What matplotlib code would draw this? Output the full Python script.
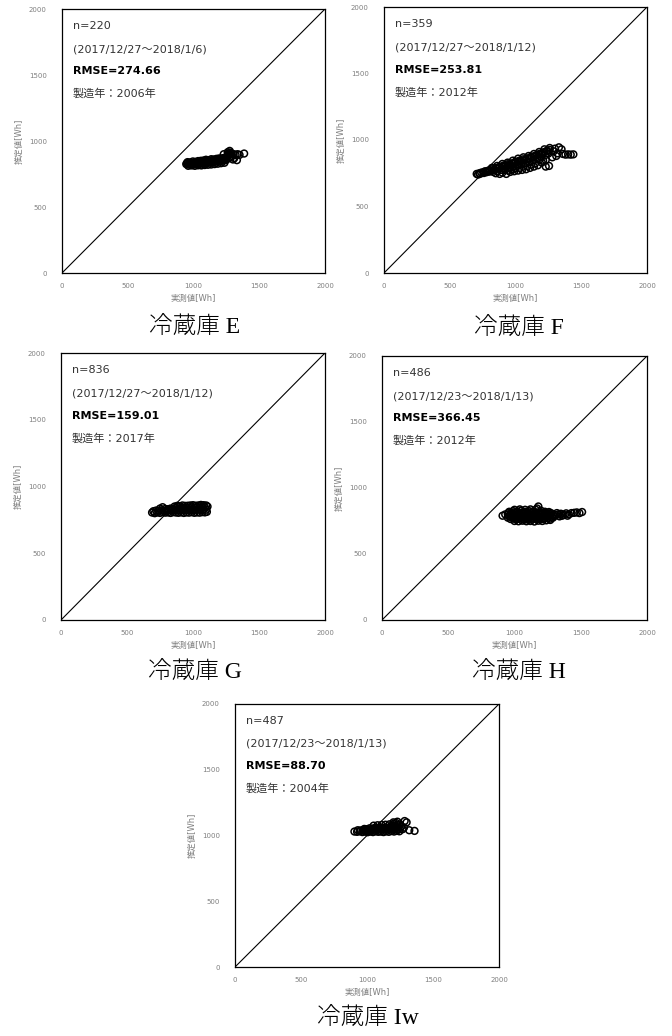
import matplotlib
matplotlib.use('Agg')
import matplotlib.pyplot as plt

# 実測値 / 推定値 pairs for each refrigerator [Wh]
e_points = [
    (945, 825), (960, 822), (975, 824), (990, 826), (1005, 823), (1020, 828), (1035, 826),
    (1050, 830), (1065, 832), (1080, 829), (1095, 835), (1110, 838), (1125, 836), (1140, 840),
    (1155, 842), (1170, 845), (1185, 843), (1200, 848), (1215, 850), (1230, 852), (1245, 855),
    (960, 812), (985, 815), (1010, 812), (1035, 816), (1060, 815), (1085, 818), (1110, 820),
    (1135, 822), (1160, 825), (1185, 828), (1210, 832), (1235, 835),
    (950, 832), (965, 830), (980, 834), (995, 833), (1010, 836), (1025, 838), (1040, 840),
    (1055, 842), (1070, 843), (1085, 845), (1100, 848), (1115, 850), (1130, 850), (1145, 853),
    (1160, 855), (1175, 857), (1190, 858), (1205, 862), (1220, 865), (1235, 868),
    (955, 840), (975, 838), (995, 845), (1015, 842), (1035, 848), (1055, 850), (1075, 852),
    (1095, 858), (1115, 855), (1135, 862), (1155, 860), (1175, 865), (1195, 868), (1210, 866),
    (1225, 870), (1240, 872), (1250, 878), (1255, 885), (1262, 890),
    (1260, 915), (1275, 925), (1268, 895), (1290, 905), (1305, 900), (1320, 895), (1335, 900),
    (1350, 895), (1385, 905), (1330, 855), (1310, 870), (1285, 880), (1250, 860), (1230, 900),
    (1270, 870), (1300, 860), (1265, 905), (1280, 912),
]
f_points = [
    (705, 745), (715, 740), (725, 750), (740, 755), (760, 752), (780, 758), (800, 762),
    (820, 770), (840, 775), (860, 785), (880, 790), (900, 800), (920, 805), (940, 810),
    (960, 815), (980, 820), (1000, 830), (1020, 835), (1040, 840), (1060, 845), (1080, 855),
    (1100, 860), (1120, 870), (1140, 875), (1160, 885), (1180, 890), (1200, 900), (1220, 910),
    (1240, 920), (1260, 925),
    (730, 745), (760, 760), (790, 768), (820, 780), (850, 790), (880, 800), (910, 808),
    (940, 818), (970, 825), (1000, 838), (1030, 845), (1060, 855), (1090, 862), (1120, 875),
    (1150, 882), (1180, 895), (1210, 905), (1240, 915),
    (770, 765), (800, 772), (830, 760), (865, 768), (895, 775), (925, 785), (955, 795),
    (985, 802), (1015, 808), (1045, 818), (1075, 825), (1105, 835), (1135, 845), (1165, 858),
    (1195, 870), (1225, 885), (1250, 898),
    (850, 750), (880, 745), (900, 755), (930, 745), (960, 760), (990, 765), (1020, 770),
    (1050, 775), (1080, 780), (1110, 790), (1140, 800), (1170, 810), (1200, 830), (1230, 850),
    (920, 775), (960, 790), (1000, 790), (1060, 800), (1120, 815), (1180, 850),
    (945, 770), (985, 780), (1030, 790), (1090, 805), (1150, 825), (1210, 845),
    (820, 790), (860, 805), (900, 820), (940, 830), (980, 845), (1020, 860), (1060, 870),
    (1100, 880), (1140, 895), (1180, 910), (1220, 930), (1260, 940),
    (1300, 935), (1330, 945), (1350, 930), (1290, 915), (1320, 900), (1360, 895), (1380, 890),
    (1400, 892), (1420, 890), (1440, 892), (1255, 805), (1230, 800), (1280, 870), (1310, 880),
]
g_points = [
    (690, 805), (710, 800), (730, 806), (750, 802), (770, 808), (790, 804), (810, 806),
    (830, 802), (850, 808), (870, 805), (890, 803), (910, 807), (930, 802), (950, 806),
    (970, 804), (990, 808), (1010, 803), (1030, 806), (1050, 804), (1070, 808), (1090, 806),
    (1105, 810),
    (700, 815), (720, 820), (740, 818), (760, 822), (780, 820), (800, 818), (820, 822),
    (840, 820), (860, 824), (880, 820), (900, 822), (920, 826), (940, 822), (960, 825),
    (980, 822), (1000, 826), (1020, 824), (1040, 828), (1060, 824), (1080, 828), (1100, 826),
    (750, 835), (770, 845), (790, 832), (810, 830), (830, 835), (850, 832), (870, 838),
    (890, 835), (910, 840), (930, 838), (950, 842), (970, 840), (990, 845), (1010, 842),
    (1030, 846), (1050, 844), (1070, 848), (1090, 845), (1110, 850),
    (860, 850), (880, 855), (900, 852), (920, 858), (940, 855), (960, 856), (980, 858),
    (1000, 860), (1020, 856), (1040, 858), (1060, 862), (1080, 860), (1100, 858),
]
h_points = [
    (910, 790), (930, 800), (950, 775), (970, 765), (990, 770), (1010, 762), (1030, 768),
    (1050, 760), (1070, 765), (1090, 762), (1110, 768), (1130, 760), (1150, 766), (1170, 762),
    (1190, 768), (1210, 765), (1230, 770), (1250, 772), (1270, 768), (1290, 775),
    (1000, 750), (1030, 748), (1060, 752), (1090, 748), (1120, 750), (1150, 746), (1180, 752),
    (1210, 750), (1240, 755), (1270, 758),
    (960, 785), (980, 782), (1000, 780), (1020, 785), (1040, 780), (1060, 784), (1080, 778),
    (1100, 784), (1120, 780), (1140, 785), (1160, 780), (1180, 784), (1200, 780), (1220, 785),
    (1240, 782), (1260, 786), (1280, 784), (1300, 788),
    (950, 800), (970, 795), (990, 805), (1010, 792), (1030, 800), (1050, 795), (1070, 802),
    (1090, 795), (1110, 800), (1130, 793), (1150, 800), (1170, 796), (1190, 802), (1210, 798),
    (1230, 800), (1250, 795), (1270, 800), (1290, 798), (1310, 795),
    (955, 812), (975, 810), (995, 815), (1015, 810), (1035, 814), (1055, 810), (1075, 815),
    (1095, 812), (1115, 815), (1135, 810), (1155, 816), (1175, 812), (1195, 815), (1215, 810),
    (1235, 812), (1255, 808), (1275, 810),
    (960, 820), (990, 825), (1020, 822), (1050, 828), (1080, 820), (1110, 825), (1140, 822),
    (1170, 845), (1180, 860), (1200, 828), (1230, 820), (1260, 818),
    (1000, 835), (1040, 838), (1080, 835), (1120, 838), (1160, 835),
    (1330, 800), (1350, 805), (1370, 798), (1390, 808), (1410, 800), (1430, 810), (1450, 812),
    (1470, 815), (1490, 810), (1510, 818), (1340, 785), (1400, 790), (1320, 810), (1360, 790),
]
i_points = [
    (905, 1030), (925, 1028), (945, 1032), (965, 1026), (985, 1030), (1005, 1025), (1025, 1030),
    (1045, 1026), (1065, 1032), (1085, 1028), (1105, 1030), (1125, 1026), (1145, 1032),
    (1165, 1028), (1185, 1034), (1205, 1030), (1225, 1035), (1245, 1032),
    (930, 1040), (950, 1038), (970, 1042), (990, 1040), (1010, 1044), (1030, 1040),
    (1050, 1045), (1070, 1042), (1090, 1046), (1110, 1043), (1130, 1047), (1150, 1044),
    (1170, 1048), (1190, 1045), (1210, 1050), (1230, 1046), (1250, 1050), (1270, 1048),
    (980, 1050), (1000, 1048), (1020, 1055), (1040, 1052), (1060, 1058), (1080, 1054),
    (1100, 1060), (1120, 1056), (1140, 1062), (1160, 1058), (1180, 1064), (1200, 1060),
    (1220, 1066), (1240, 1062), (1260, 1068), (1280, 1060),
    (1050, 1075), (1080, 1078), (1110, 1080), (1140, 1082), (1170, 1085), (1200, 1088),
    (1220, 1095), (1250, 1085), (1190, 1075), (1230, 1078),
    (1200, 1100), (1230, 1105), (1285, 1110), (1300, 1100), (1360, 1035), (1320, 1040),
]

names = ['冷蔵庫 E', '冷蔵庫 F', '冷蔵庫 G', '冷蔵庫 H', '冷蔵庫 Iw']
counts = ['n=220', 'n=359', 'n=836', 'n=486', 'n=487']
periods = ['(2017/12/27～2018/1/6)', '(2017/12/27～2018/1/12)', '(2017/12/27～2018/1/12)',
           '(2017/12/23～2018/1/13)', '(2017/12/23～2018/1/13)']
rmse = ['RMSE=274.66', 'RMSE=253.81', 'RMSE=159.01', 'RMSE=366.45', 'RMSE=88.70']
years = ['製造年：2006年', '製造年：2012年', '製造年：2017年', '製造年：2012年', '製造年：2004年']
ticks = [0, 500, 1000, 1500, 2000]

all_points = [e_points, f_points, g_points, h_points, i_points]

W, H = 672, 1036
# axes boxes in pixels: left, top, right, bottom
boxes = [(62, 9, 325, 273), (384, 7, 647, 273), (61, 353, 325, 620),
         (382, 356, 647, 620), (235, 704, 499, 967)]
# caption centres in pixels
captions = [(195, 327), (519, 328), (195, 672), (519, 672), (368, 1018)]

TEXT_FONT = ['DejaVu Sans', 'Noto Sans CJK JP']
GRAY = '#7f7f7f'

fig = plt.figure(figsize=(W / 100, H / 100), dpi=100)

for k in range(5):
    l, t, r, b = boxes[k]
    ax = fig.add_axes([l / W, 1 - b / H, (r - l) / W, (b - t) / H])
    xs = [p[0] for p in all_points[k]]
    ys = [p[1] for p in all_points[k]]
    ax.plot([0, 2000], [0, 2000], color='black', lw=0.8, zorder=1)
    ax.scatter(xs, ys, s=24, facecolors='none', edgecolors='black', linewidths=1.1, zorder=2)
    ax.set_xlim(0, 2000)
    ax.set_ylim(0, 2000)
    ax.set_xticks(ticks)
    ax.set_yticks(ticks)
    ax.tick_params(length=0, labelsize=5, labelcolor=GRAY)
    ax.tick_params(axis='y', pad=11)
    ax.tick_params(axis='x', pad=7)
    for sp in ax.spines.values():
        sp.set_linewidth(0.9)
        sp.set_color('black')
    ax.set_xlabel('実測値[Wh]', fontsize=6, color=GRAY, family=TEXT_FONT, labelpad=4)
    ax.set_ylabel('推定値[Wh]', fontsize=6, color=GRAY, family=TEXT_FONT, labelpad=4)

    ax.text(0.04, 0.937, counts[k], transform=ax.transAxes, fontsize=8, color='#333333',
            family=TEXT_FONT, va='center')
    ax.text(0.04, 0.848, periods[k], transform=ax.transAxes, fontsize=8, color='#333333',
            family=TEXT_FONT, va='center')
    ax.text(0.04, 0.765, rmse[k], transform=ax.transAxes, fontsize=8, color='black',
            family=TEXT_FONT, fontweight='bold', va='center')
    ax.text(0.04, 0.68, years[k], transform=ax.transAxes, fontsize=8, color='#333333',
            family=TEXT_FONT, va='center')

    cx, cy = captions[k]
    fig.text(cx / W, 1 - cy / H, names[k], ha='center', va='center', fontsize=17,
             fontweight='light', family=['Liberation Serif', 'Noto Sans CJK JP'])

fig.savefig('out.png', dpi=100)
